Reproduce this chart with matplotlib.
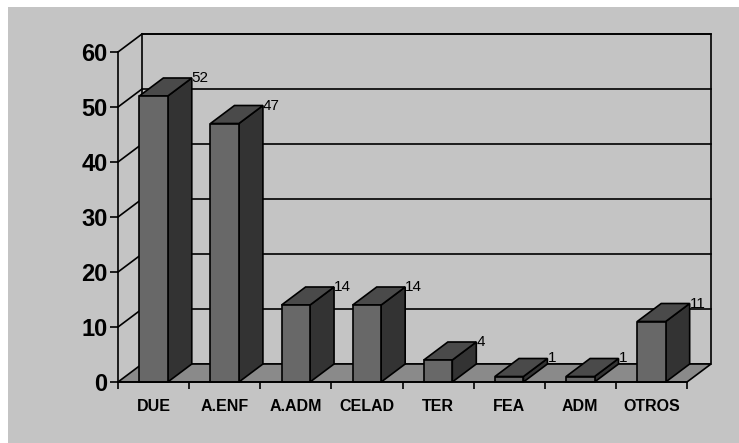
import numpy as np
import matplotlib
matplotlib.use("Agg")
import matplotlib.pyplot as plt
from matplotlib.patches import Polygon, Rectangle

categories = ["DUE", "A.ENF", "A.ADM", "CELAD", "TER", "FEA", "ADM", "OTROS"]
values = [52, 47, 14, 14, 4, 1, 1, 11]
yticks = [0, 10, 20, 30, 40, 50, 60]

BG = "#c4c4c4"
FLOOR = "#8a8a8a"
FRONT = "#686868"
SIDE = "#333333"
TOP = "#4a4a4a"
LW = 1.2

plt.rcParams["font.family"] = ["Liberation Sans", "DejaVu Sans"]

fig = plt.figure(figsize=(7.39, 4.43), dpi=100)
fig.patch.set_facecolor("white")
fig.patches.append(Rectangle((8 / 739, 0), 1, (443 - 7) / 443, transform=fig.transFigure,
                             facecolor=BG, edgecolor="none", zorder=-10))

n = len(categories)
ax = fig.add_axes([118 / 739, 61 / 443, 569 / 739, 330 / 443])
ax.set_facecolor("none")
ax.set_xlim(0, n)
ax.set_ylim(0, 60)

# oblique depth offset in data units (24 px right, 18 px up)
ddx = 24 / (569 / n)
ddy = 18 / (330 / 60)

# walls and floor
ax.add_patch(Polygon([(ddx, ddy), (n + ddx, ddy), (n + ddx, 60 + ddy), (ddx, 60 + ddy)],
                     closed=True, fc=BG, ec="black", lw=LW, clip_on=False, zorder=1))
ax.add_patch(Polygon([(0, 0), (n, 0), (n + ddx, ddy), (ddx, ddy)],
                     closed=True, fc=FLOOR, ec="black", lw=LW, clip_on=False, zorder=2))
for v in yticks[1:]:
    ax.plot([ddx, n + ddx], [v + ddy, v + ddy], color="black", lw=LW, clip_on=False, zorder=1.5)
    ax.plot([0, ddx], [v, v + ddy], color="black", lw=LW, clip_on=False, zorder=1.5)

# bars
w = 0.4
for i, v in enumerate(values):
    x0 = i + 0.5 - w / 2
    x1 = i + 0.5 + w / 2
    ax.add_patch(Polygon([(x1, 0), (x1 + ddx, ddy), (x1 + ddx, v + ddy), (x1, v)],
                         closed=True, fc=SIDE, ec="black", lw=LW, clip_on=False, zorder=3))
    ax.add_patch(Polygon([(x0, v), (x1, v), (x1 + ddx, v + ddy), (x0 + ddx, v + ddy)],
                         closed=True, fc=TOP, ec="black", lw=LW, clip_on=False, zorder=3))
    ax.add_patch(Rectangle((x0, 0), w, v, fc=FRONT, ec="black", lw=LW, clip_on=False, zorder=4))
    ax.text(x1 + ddx, v + ddy, str(v), ha="left", va="center", fontsize=11, zorder=5)

# axes
for s in ["top", "right"]:
    ax.spines[s].set_visible(False)
ax.spines["left"].set_linewidth(LW)
ax.spines["bottom"].set_linewidth(LW)
ax.spines["left"].set_zorder(6)
ax.spines["bottom"].set_zorder(6)
ax.set_yticks(yticks)
ax.set_yticklabels([str(t) for t in yticks], fontsize=17, fontweight="bold")
ax.tick_params(axis="y", length=6, width=LW, pad=1.5)
ax.set_xticks(np.arange(n + 1))
ax.set_xticklabels([])
ax.tick_params(axis="x", which="major", length=5, width=LW)
ax.set_xticks(np.arange(n) + 0.5, minor=True)
ax.set_xticklabels(categories, minor=True, fontsize=11.5, fontweight="bold")
ax.tick_params(axis="x", which="minor", length=0, pad=12)

fig.savefig("out.png", dpi=100, facecolor=fig.get_facecolor())
